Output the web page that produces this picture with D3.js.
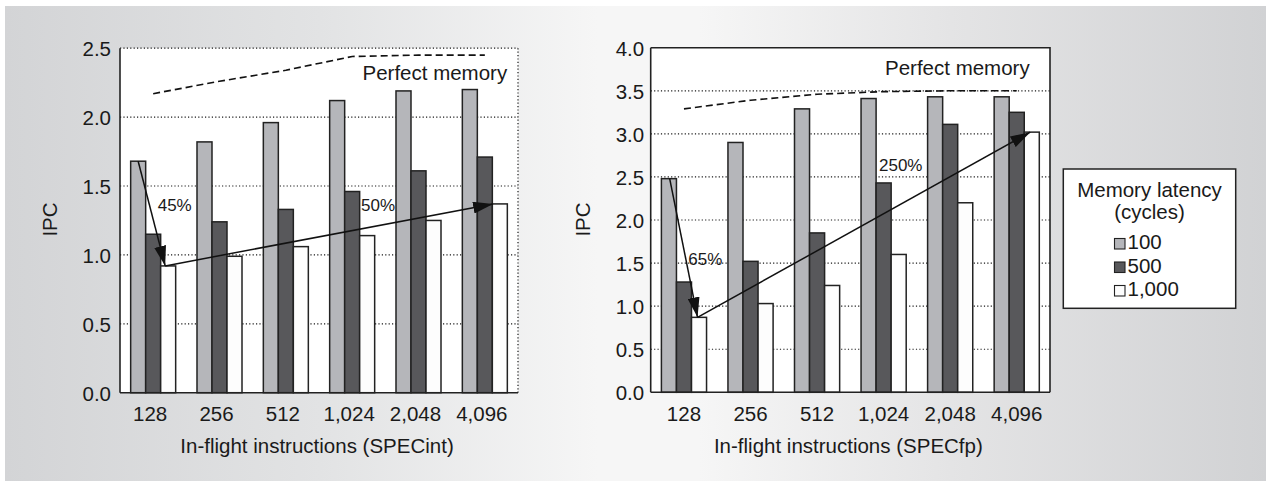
<!DOCTYPE html>
<html><head><meta charset="utf-8">
<script src="https://cdn.jsdelivr.net/npm/d3@7"></script>
<style>
body{margin:0;background:#fff;}
svg{display:block;font-family:"Liberation Sans",Arial,Helvetica,sans-serif;}
</style></head>
<body><svg id="c" width="1269" height="481"></svg>
<script>
// ---------- data ----------
const categories = ["128","256","512","1,024","2,048","4,096"];
const seriesNames = ["100","500","1,000"];
const intLat100  = [1.68,1.82,1.96,2.12,2.19,2.20];
const intLat500  = [1.15,1.24,1.33,1.46,1.61,1.71];
const intLat1000 = [0.92,0.99,1.06,1.14,1.25,1.37];
const intPerfect = [2.17,2.26,2.34,2.44,2.45,2.45];
const fpLat100   = [2.48,2.90,3.29,3.41,3.43,3.43];
const fpLat500   = [1.28,1.52,1.85,2.43,3.11,3.25];
const fpLat1000  = [0.87,1.03,1.24,1.60,2.20,3.02];
const fpPerfect  = [3.29,3.39,3.46,3.49,3.50,3.50];
const intTicks = [0,0.5,1.0,1.5,2.0,2.5];
const fpTicks  = [0,0.5,1.0,1.5,2.0,2.5,3.0,3.5,4.0];
const colors = ["#b5b6ba","#58585b","#fdfdfd"];

const svg = d3.select("#c");
const defs = svg.append("defs");
const g = defs.append("linearGradient").attr("id","bg").attr("x1","0").attr("x2","1").attr("y1","0").attr("y2","0");
[[0,"#d3d4d6"],[0.25,"#e2e3e4"],[0.47,"#f6f6f6"],[0.55,"#f6f6f6"],[0.75,"#e4e4e5"],[1,"#d1d2d4"]]
  .forEach(([o,c])=>g.append("stop").attr("offset",o).attr("stop-color",c));
defs.append("marker").attr("id","ah").attr("viewBox","0 0 20 12").attr("refX",20).attr("refY",6)
  .attr("markerWidth",20).attr("markerHeight",12).attr("markerUnits","userSpaceOnUse").attr("orient","auto")
  .append("path").attr("d","M0,0 L20,6 L0,12 Z").attr("fill","#111");

svg.append("rect").attr("x",5).attr("y",6).attr("width",1261).attr("height",475).attr("fill","url(#bg)");

const FS = 20.5;
const TXT = "#1a1a1a";

function chart(o){
  const x0 = d3.scaleBand().domain(categories).range([o.left,o.right]).paddingInner(0.3216).paddingOuter(0.1608);
  const x1 = d3.scaleBand().domain(seriesNames).range([0,x0.bandwidth()]);
  const y = d3.scaleLinear().domain([0,o.max]).range([o.bottom,o.top]);
  const root = svg.append("g");
  root.append("rect").attr("x",o.left).attr("y",o.top).attr("width",o.right-o.left).attr("height",o.bottom-o.top).attr("fill","#fff");
  // grid
  root.append("g").selectAll("line").data(o.ticks.filter(t=>t>0 && t<o.max || (t===o.max && !o.solidBox))).join("line")
    .attr("x1",o.left).attr("x2",o.right).attr("y1",d=>y(d)).attr("y2",d=>y(d))
    .attr("stroke","#1a1a1a").attr("stroke-width",1.2).attr("stroke-dasharray","1.2,2.2");
  if(!o.solidBox){
    root.append("line").attr("x1",o.right).attr("x2",o.right).attr("y1",o.top).attr("y2",o.bottom)
      .attr("stroke","#1a1a1a").attr("stroke-width",1.2).attr("stroke-dasharray","1.2,2.2");
  }
  // bars
  const rows = categories.map((c,i)=>({c, v:o.series.map(s=>s[i])}));
  root.append("g").selectAll("g").data(rows).join("g")
    .attr("transform",d=>`translate(${x0(d.c)},0)`)
    .selectAll("rect").data(d=>d.v.map((v,j)=>({k:seriesNames[j],v,j}))).join("rect")
    .attr("x",d=>x1(d.k)).attr("width",x1.bandwidth())
    .attr("y",d=>y(d.v)).attr("height",d=>y(0)-y(d.v))
    .attr("fill",d=>colors[d.j]).attr("stroke","#222").attr("stroke-width",1.5);
  // perfect memory dashed
  root.append("path").datum(o.perfect)
    .attr("d",d3.line().x((d,i)=>x0(categories[i])+x0.bandwidth()/2).y(d=>y(d)))
    .attr("fill","none").attr("stroke","#111").attr("stroke-width",1.6).attr("stroke-dasharray","7,4");
  root.append("text").attr("x",o.pmX).attr("y",o.pmY).attr("font-size",FS).attr("fill",TXT).text("Perfect memory");
  // arrows
  const bx = (c,k,f)=>x0(c)+x1(k)+x1.bandwidth()*f;
  o.arrows.forEach(a=>{
    const fv = o.series[seriesNames.indexOf(a.from[1])][categories.indexOf(a.from[0])];
    const tv = o.series[seriesNames.indexOf(a.to[1])][categories.indexOf(a.to[0])];
    root.append("line").attr("x1",bx(a.from[0],a.from[1],a.ff)).attr("y1",y(fv))
      .attr("x2",bx(a.to[0],a.to[1],a.tf)).attr("y2",y(tv))
      .attr("stroke","#111").attr("stroke-width",1.5).attr("marker-end","url(#ah)");
    root.append("text").attr("x",a.lx).attr("y",a.ly).attr("font-size",17).attr("fill",TXT).text(a.label);
  });
  // axes
  const ya = d3.axisLeft(y).tickValues(o.ticks).tickFormat(d3.format(".1f")).tickSize(0).tickPadding(o.tp);
  const yg = root.append("g").attr("transform",`translate(${o.left},0)`).call(ya);
  yg.select(".domain").remove();
  yg.selectAll("text").attr("font-size",FS).attr("fill",TXT).attr("font-family",null).attr("dy","0.36em");
  const xa = d3.axisBottom(x0).tickSize(0).tickPadding(14);
  const xg = root.append("g").attr("transform",`translate(0,${o.bottom})`).call(xa);
  xg.select(".domain").remove();
  xg.selectAll("text").attr("font-size",FS).attr("fill",TXT).attr("font-family",null).attr("dx",o.xdx).attr("dy","0.71em");
  root.append("line").attr("x1",o.left).attr("x2",o.left).attr("y1",o.top).attr("y2",o.bottom).attr("stroke","#222").attr("stroke-width",1.6);
  root.append("line").attr("x1",o.left).attr("x2",o.right).attr("y1",o.bottom).attr("y2",o.bottom).attr("stroke","#222").attr("stroke-width",1.6);
  if(o.solidBox){
    root.append("path").attr("d",`M${o.left},${o.top}H${o.right}V${o.bottom}`).attr("fill","none").attr("stroke","#222").attr("stroke-width",1.6);
  }
  root.append("text").attr("x",(o.left+o.right)/2-2).attr("y",452.5).attr("text-anchor","middle").attr("font-size",FS).attr("fill",TXT).text(o.xTitle);
  root.append("text").attr("transform",`translate(${o.ylX},219.5) rotate(-90)`).attr("text-anchor","middle").attr("font-size",FS).attr("fill",TXT).text("IPC");
}

chart({left:120,right:518,top:48.2,bottom:392.7,max:2.5,ticks:intTicks,solidBox:false,tp:9,xdx:-3,
  series:[intLat100,intLat500,intLat1000],perfect:intPerfect,pmX:362.5,pmY:80,
  xTitle:"In-flight instructions (SPECint)",ylX:57,
  arrows:[{from:["128","100"],to:["128","1,000"],ff:0.5,tf:0.3,label:"45%",lx:157.7,ly:210.5},
          {from:["128","1,000"],to:["4,096","1,000"],ff:0.3,tf:0.05,label:"50%",lx:361,ly:210.5}]});

chart({left:650.7,right:1050,top:47.7,bottom:392.3,max:4.0,ticks:fpTicks,solidBox:true,tp:6.5,xdx:0,
  series:[fpLat100,fpLat500,fpLat1000],perfect:fpPerfect,pmX:885,pmY:75,
  xTitle:"In-flight instructions (SPECfp)",ylX:590,
  arrows:[{from:["128","100"],to:["128","1,000"],ff:0.55,tf:0.4,label:"65%",lx:688.3,ly:265},
          {from:["128","1,000"],to:["4,096","1,000"],ff:0.4,tf:0.4,label:"250%",lx:879,ly:170.7}]});

// legend
const lg = svg.append("g");
lg.append("rect").attr("x",1063.3).attr("y",169).attr("width",172.4).attr("height",139.3).attr("fill","#fff").attr("stroke","#222").attr("stroke-width",1.5);
lg.append("text").attr("x",1149.5).attr("y",196.7).attr("text-anchor","middle").attr("font-size",FS).attr("fill",TXT).text("Memory latency");
lg.append("text").attr("x",1149.5).attr("y",218.5).attr("text-anchor","middle").attr("font-size",FS).attr("fill",TXT).text("(cycles)");
const ly = d3.scalePoint().domain(seriesNames).range([249,296]);
const it = lg.selectAll("g.it").data(seriesNames).join("g").attr("class","it");
it.append("rect").attr("x",1114.5).attr("y",d=>ly(d)-10.5).attr("width",10.5).attr("height",10.5)
  .attr("fill",(d,i)=>colors[i]).attr("stroke","#222").attr("stroke-width",1.1);
it.append("text").attr("x",1127.5).attr("y",d=>ly(d)).attr("font-size",FS).attr("fill",TXT).text(d=>d);
</script></body></html>
